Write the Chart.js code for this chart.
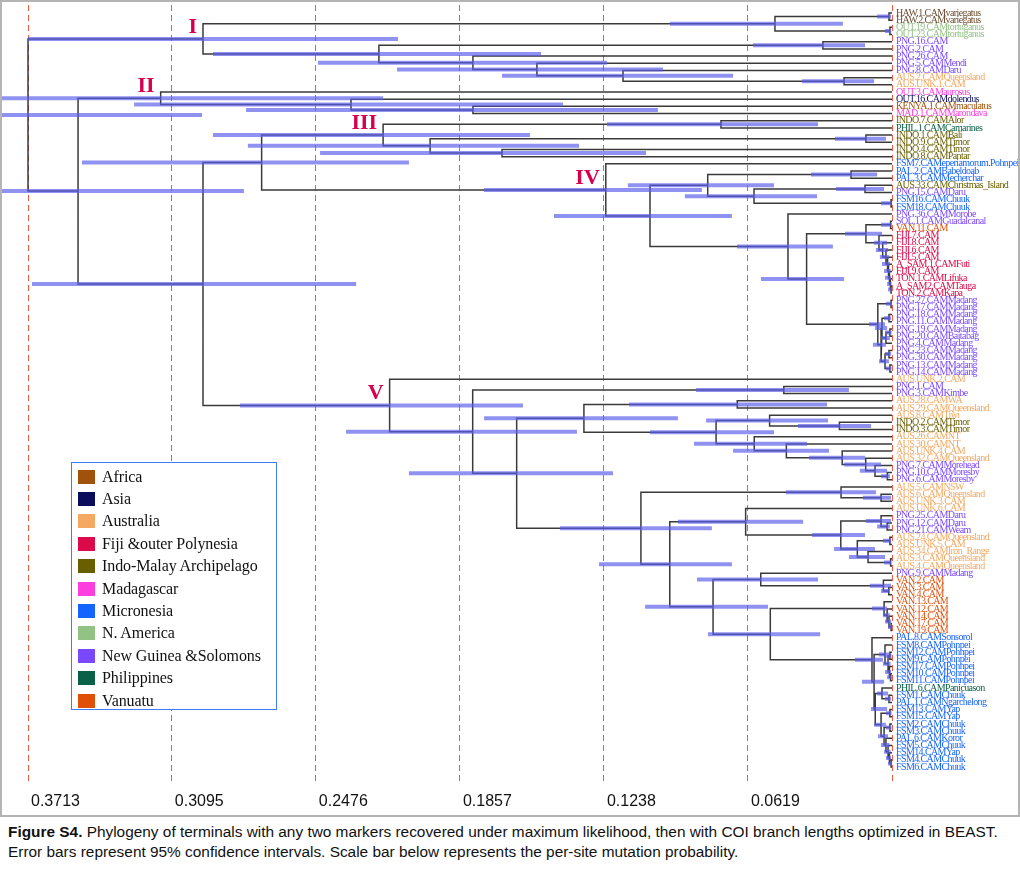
<!DOCTYPE html>
<html>
<head>
<meta charset="utf-8">
<script src="https://cdn.jsdelivr.net/npm/chart.js@4.4.1/dist/chart.umd.min.js"></script>
<style>
  body { margin: 0; background: #fff; width: 1020px; height: 870px; position: relative; overflow: hidden; }
  #frame { position: absolute; left: 0; top: 0; width: 1016px; height: 813px; border: 2px solid #b4b4b4; }
  #tree { display: block; }
  #legend { position: absolute; left: 71px; top: 462px; width: 204px; height: 246px; border: 1.5px solid #3d7bff; background: #fff;
            font-family: 'Liberation Serif', 'Times New Roman', serif; font-size: 16px; color: #111; }
  .row { position: absolute; left: 6px; height: 22px; line-height: 22px; white-space: nowrap; letter-spacing: -0.1px; }
  .sw { display: inline-block; width: 17px; height: 14px; vertical-align: -2px; margin-right: 7px; }
  #caption { position: absolute; left: 8px; top: 822px; font-family: 'Liberation Sans', Arial, sans-serif; font-size: 15.4px; line-height: 20px; color: #111; white-space: nowrap; }
</style>
</head>
<body>
<div id="frame"><canvas id="tree" width="1016" height="813"></canvas></div>
<div id="legend"></div>
<div id="caption"><b>Figure S4.</b> Phylogeny of terminals with any two markers recovered under maximum likelihood, then with COI branch lengths optimized in BEAST.<br>Error bars represent 95% confidence intervals. Scale bar below represents the per-site mutation probability.</div>
<script>
// scale bar values (per-site mutation probability, measured back from the tips)
const ageTicks = [0.3713, 0.3095, 0.2476, 0.1857, 0.1238, 0.0619, 0];

// regions for the legend
const regionCodes = ["AF", "AS", "AU", "FJ", "IM", "MD", "MI", "NA", "NG", "PH", "VA"];
const regionNames = ["Africa", "Asia", "Australia", "Fiji &outer Polynesia", "Indo-Malay Archipelago", "Madagascar",
                     "Micronesia", "N. America", "New Guinea &Solomons", "Philippines", "Vanuatu"];
const regionColors = ["#a0520c", "#0c0c5c", "#f4a862", "#dc0a4a", "#6a5f00", "#ff3ee0",
                      "#1464ff", "#93c285", "#7a48ff", "#0a6048", "#e05008"];
const otherColor = "#6b4a2e"; // HAW, not in legend

// terminals, top to bottom
const tips = [
  "HAW.1.CAMvariegatus", "HAW.2.CAMvariegatus", "OUT.19.CAMtortuganus", "OUT.23.CAMtortuganus",
  "PNG.16.CAM", "PNG.2.CAM", "PNG.26.CAM", "PNG.5.CAMMendi", "PNG.8.CAMDaru",
  "AUS.2.CAMQueensland", "AUS.UNK.1.CAM", "OUT.3.CAMaurosus", "OUT.16.CAMdolendus", "KENYA.1.CAMmaculatus", "MAD.1.CAMMarondava",
  "INDO.7.CAMAlor", "PHIL.1.CAMCamarines", "INDO.1.CAMBali", "INDO.9.CAMTimor", "INDO.4.CAMTimor", "INDO.8.CAMPantar",
  "FSM7.CAMeperiamorum.Pohnpei", "PAL.2.CAMBabeldoab", "PAL.3.CAMMecherchar", "AUS.33.CAMChristmas_Island", "PNG.15.CAMDaru",
  "FSM16.CAMChuuk", "FSM18.CAMChuuk", "PNG.36.CAMMorobe", "SOL.1.CAMGuadalcanal", "VAN.11.CAM",
  "FIJI.7.CAM", "FIJI.8.CAM", "FIJI.6.CAM", "FIJI.5.CAM", "A_SAM.1.CAMFuti", "FIJI.9.CAM", "TON.1.CAMLifuka", "A_SAM2.CAMTauga", "TON.2.CAMKapa",
  "PNG.27.CAMMadang", "PNG.17.CAMMadang", "PNG.18.CAMMadang", "PNG.11.CAMMadang", "PNG.19.CAMMadang", "PNG.20.CAMBaitabag",
  "PNG.4.CAMMadang", "PNG.23.CAMMadang", "PNG.30.CAMMadang", "PNG.13.CAMMadang", "PNG.14.CAMMadang",
  "AUS.UNK.2.CAM", "PNG.1.CAM", "PNG.3.CAMKimbe", "AUS.28.CAMWA", "AUS.29.CAMQueensland", "AUS.8.CAMTiwi", "INDO.2.CAMTimor", "INDO.3.CAMTimor",
  "AUS.26.CAMNT", "AUS.30.CAMNT", "AUS.UNK.4.CAM", "AUS.32.CAMQueensland", "PNG.7.CAMMorehead", "PNG.10.CAMMoresby", "PNG.6.CAMMoresby",
  "AUS.5.CAMNSW", "AUS.6.CAMQueensland", "AUS.UNK.3.CAM", "AUS.UNK.6.CAM", "PNG.25.CAMDaru", "PNG.12.CAMDaru", "PNG.21.CAMWeam",
  "AUS.24.CAMQueensland", "AUS.UNK.5.CAM", "AUS.34.CAMIron_Range", "AUS.3.CAMQueensland", "AUS.4.CAMQueensland", "PNG.9.CAMMadang",
  "VAN.2.CAM", "VAN.3.CAM", "VAN.4.CAM", "VAN.13.CAM", "VAN.12.CAM", "VAN.14.CAM", "VAN.17.CAM", "VAN.19.CAM",
  "PAL.8.CAMSonsorol", "FSM8.CAMPohnpei", "FSM12.CAMPohnpei", "FSM9.CAMPohnpei", "FSM17.CAMPohnpei", "FSM10.CAMPohnpei", "FSM11.CAMPohnpei",
  "PHIL.6.CAMPanicuason", "FSM1.CAMChuuk", "PAL.1.CAMNgarchelong", "FSM13.CAMYap", "FSM15.CAMYap", "FSM2.CAMChuuk", "FSM3.CAMChuuk",
  "PAL.6.CAMKoror", "FSM5.CAMChuuk", "FSM14.CAMYap", "FSM4.CAMChuuk", "FSM6.CAMChuuk"
];
const tipRegion = [
  "HW", "HW", "NA", "NA",
  "NG", "NG", "NG", "NG", "NG",
  "AU", "AU", "MD", "AS", "AF", "MD",
  "IM", "PH", "IM", "IM", "IM", "IM",
  "MI", "MI", "MI", "IM", "NG",
  "MI", "MI", "NG", "NG", "VA",
  "FJ", "FJ", "FJ", "FJ", "FJ", "FJ", "FJ", "FJ", "FJ",
  "NG", "NG", "NG", "NG", "NG", "NG", "NG", "NG", "NG", "NG", "NG",
  "AU", "NG", "NG", "AU", "AU", "AU", "IM", "IM",
  "AU", "AU", "AU", "AU", "NG", "NG", "NG",
  "AU", "AU", "AU", "AU", "NG", "NG", "NG",
  "AU", "AU", "AU", "AU", "AU", "NG",
  "VA", "VA", "VA", "VA", "VA", "VA", "VA", "VA",
  "MI", "MI", "MI", "MI", "MI", "MI", "MI",
  "PH", "MI", "MI", "MI", "MI", "MI", "MI",
  "MI", "MI", "MI", "MI", "MI"
];

// internal nodes: [id, children (tip index or node id), age, 95% CI young, 95% CI old]
const nodes = [
  ["haw", [0, 1], 0.0013, 0.0004, 0.0064],
  ["tort", [2, 3], 0.0009, 0.0004, 0.0030],
  ["I.a", ["haw", "tort"], 0.0503, 0.0211, 0.0954],
  ["png16", [4, 5], 0.0297, 0.0116, 0.0597],
  ["aus2", [9, 10], 0.0206, 0.0077, 0.0387],
  ["png8", [8, "aus2"], 0.1156, 0.0683, 0.1676],
  ["png5", [7, "png8"], 0.1526, 0.0984, 0.2127],
  ["png26", [6, "png5"], 0.1801, 0.1225, 0.2467],
  ["I.b", ["png16", "png26"], 0.2205, 0.1508, 0.2918],
  ["I", ["I.a", "I.b"], 0.2961, 0.2123, 0.3713],
  ["km", [13, 14], 0.1801, 0.1006, 0.2776],
  ["II.a", [12, "km"], 0.2325, 0.1414, 0.3257],
  ["II", [11, "II.a"], 0.3143, 0.2187, 0.3829],
  ["alor", [15, 16], 0.0735, 0.0318, 0.1225],
  ["bali", [17, 18], 0.0112, 0.0026, 0.0245],
  ["pantar", [19, 20], 0.1676, 0.1057, 0.2458],
  ["III.a", ["bali", "pantar"], 0.1985, 0.1345, 0.2768],
  ["III", ["alor", "III.a"], 0.2187, 0.1556, 0.2918],
  ["palau", [22, 23], 0.0176, 0.0064, 0.0348],
  ["xmas", [24, 25], 0.0116, 0.0034, 0.0241],
  ["chuuk", [26, 27], 0.0004, 0.0004, 0.0047],
  ["IV.c", ["xmas", "chuuk"], 0.0593, 0.0322, 0.0890],
  ["IV.b", ["palau", "IV.c"], 0.0792, 0.0507, 0.1135],
  ["sol", [29, 30], 0.0006, 0.0001, 0.0047],
  ["f8", [38, 39], 0.0004, 0.0001, 0.0017],
  ["f7", [37, "f8"], 0.0007, 0.0002, 0.0021],
  ["f6", [36, "f7"], 0.0011, 0.0004, 0.0030],
  ["f5", [35, "f6"], 0.0015, 0.0006, 0.0034],
  ["f4", [34, "f5"], 0.0019, 0.0009, 0.0043],
  ["f3", [33, "f4"], 0.0026, 0.0013, 0.0052],
  ["f2", [32, "f3"], 0.0040, 0.0017, 0.0069],
  ["f1", [31, "f2"], 0.0056, 0.0021, 0.0077],
  ["fiji", ["sol", "f1"], 0.0112, 0.0043, 0.0202],
  ["m1", [40, 41], 0.0004, 0.0001, 0.0026],
  ["m2", [42, 43], 0.0013, 0.0004, 0.0034],
  ["m3", [44, 45], 0.0009, 0.0002, 0.0030],
  ["m4", ["m3", 46], 0.0026, 0.0009, 0.0047],
  ["m5", ["m2", "m4"], 0.0043, 0.0021, 0.0073],
  ["m6", [47, 48], 0.0013, 0.0004, 0.0030],
  ["m7", [49, 50], 0.0009, 0.0002, 0.0026],
  ["m8", ["m6", "m7"], 0.0030, 0.0013, 0.0056],
  ["m9", ["m5", "m8"], 0.0047, 0.0026, 0.0082],
  ["mad", ["m1", "m9"], 0.0061, 0.0030, 0.0099],
  ["IV.e", ["fiji", "mad"], 0.0367, 0.0206, 0.0563],
  ["IV.d", [28, "IV.e"], 0.0447, 0.0254, 0.0666],
  ["IV.a", ["IV.b", "IV.d"], 0.1040, 0.0688, 0.1453],
  ["IV", [21, "IV.a"], 0.1230, 0.0817, 0.1753],
  ["III_IV", ["III", "IV"], 0.2709, 0.2076, 0.3481],
  ["kimbe", [52, 53], 0.0465, 0.0185, 0.0842],
  ["wa", [54, 55], 0.0665, 0.0279, 0.1130],
  ["timor", [57, 58], 0.0226, 0.0090, 0.0404],
  ["tiwi", [56, "timor"], 0.0526, 0.0275, 0.0799],
  ["mores", [64, 65], 0.0020, 0.0009, 0.0047],
  ["moreh", [63, "mores"], 0.0073, 0.0021, 0.0138],
  ["q32", [62, "moreh"], 0.0113, 0.0047, 0.0206],
  ["unk4", [61, "q32"], 0.0214, 0.0116, 0.0357],
  ["nt30", [60, "unk4"], 0.0454, 0.0271, 0.0683],
  ["nt26", [59, "nt30"], 0.0592, 0.0365, 0.0851],
  ["V.e", ["tiwi", "nt26"], 0.0756, 0.0507, 0.1040],
  ["V.d", ["wa", "V.e"], 0.1324, 0.0920, 0.1753],
  ["unk3", [67, 68], 0.0047, 0.0004, 0.0125],
  ["nsw", [66, "unk3"], 0.0219, 0.0069, 0.0456],
  ["daru", [71, 72], 0.0021, 0.0009, 0.0064],
  ["daru2", [70, "daru"], 0.0047, 0.0004, 0.0112],
  ["unk5", [73, 74], 0.0009, 0.0004, 0.0039],
  ["q34", [76, 77], 0.0006, 0.0004, 0.0034],
  ["iron", [75, "q34"], 0.0103, 0.0030, 0.0185],
  ["q24", ["unk5", "iron"], 0.0149, 0.0073, 0.0249],
  ["V.h", ["daru2", "q24"], 0.0220, 0.0116, 0.0344],
  ["V.g", [69, "V.h"], 0.0629, 0.0382, 0.0920],
  ["van3", [80, 81], 0.0014, 0.0009, 0.0047],
  ["van2", [79, "van3"], 0.0037, 0.0004, 0.0095],
  ["V.j", [78, "van2"], 0.0564, 0.0318, 0.0838],
  ["v4", [85, 86], 0.0004, 0.0001, 0.0017],
  ["v3", [84, "v4"], 0.0013, 0.0004, 0.0030],
  ["v2", [83, "v3"], 0.0021, 0.0009, 0.0039],
  ["v1", [82, "v2"], 0.0034, 0.0021, 0.0086],
  ["pa", [89, 90], 0.0009, 0.0002, 0.0026],
  ["pb", [92, 93], 0.0006, 0.0001, 0.0021],
  ["pc", [91, "pb"], 0.0011, 0.0004, 0.0030],
  ["pd", ["pa", "pc"], 0.0017, 0.0006, 0.0039],
  ["pohn", [88, "pd"], 0.0030, 0.0013, 0.0056],
  ["ra", [95, 96], 0.0013, 0.0004, 0.0030],
  ["rb", [94, "ra"], 0.0043, 0.0017, 0.0064],
  ["rc", [97, 98], 0.0009, 0.0002, 0.0026],
  ["rd", [99, 100], 0.0009, 0.0002, 0.0026],
  ["re", [104, 105], 0.0004, 0.0001, 0.0017],
  ["rf", [103, "re"], 0.0011, 0.0004, 0.0026],
  ["rg", [102, "rf"], 0.0017, 0.0006, 0.0034],
  ["rh", [101, "rg"], 0.0026, 0.0011, 0.0047],
  ["ri", ["rd", "rh"], 0.0034, 0.0017, 0.0060],
  ["rj", ["rc", "ri"], 0.0047, 0.0026, 0.0077],
  ["rk", ["rb", "rj"], 0.0072, 0.0021, 0.0090],
  ["mic2", ["pohn", "rk"], 0.0077, 0.0034, 0.0129],
  ["mic", [87, "mic2"], 0.0086, 0.0039, 0.0159],
  ["V.k", ["v1", "mic"], 0.0523, 0.0309, 0.0791],
  ["V.i", ["V.j", "V.k"], 0.0769, 0.0533, 0.1061],
  ["V.f", ["V.g", "V.i"], 0.0955, 0.0688, 0.1259],
  ["V.c", ["nsw", "V.f"], 0.1079, 0.0774, 0.1427],
  ["V.b", ["V.d", "V.c"], 0.1613, 0.1199, 0.2076],
  ["V.a", ["kimbe", "V.b"], 0.1802, 0.1354, 0.2346],
  ["V", [51, "V.a"], 0.2159, 0.1586, 0.2802],
  ["III_V", ["III_IV", "V"], 0.2961, 0.2303, 0.3696],
  ["II_V", ["II", "III_V"], 0.3498, 0.2785, 0.3829],
  ["root", ["I", "II_V"], 0.3713, 0.2965, 0.3829]
];

// clades that carry a roman numeral
const cladeLabels = ["I", "II", "III", "IV", "V"];

(function() {
    let byId = {};
    nodes.forEach(n => { byId[n[0]] = n; });

    let ageOf = k => typeof k === "number" ? 0 : byId[k][2];
    let yMemo = {};
    function yOf(k) {
        if (typeof k === "number") return k;
        if (yMemo[k] === undefined) {
            let kids = byId[k][1];
            yMemo[k] = (yOf(kids[0]) + yOf(kids[kids.length - 1])) / 2;
        }
        return yMemo[k];
    }
    let colorOf = code => {
        let i = regionCodes.indexOf(code);
        return i < 0 ? otherColor : regionColors[i];
    };

    // branches drawn as brackets, one polyline per node
    let branchPts = [];
    let ciPts = [];
    nodes.forEach(([id, kids, age, lo, hi]) => {
        let first = kids[0], last = kids[kids.length - 1];
        branchPts.push(
            {x: ageOf(first), y: yOf(first)}, {x: age, y: yOf(first)},
            {x: age, y: yOf(last)}, {x: ageOf(last), y: yOf(last)},
            {x: null, y: null});
        ciPts.push({x: hi, y: yOf(id)}, {x: lo, y: yOf(id)}, {x: null, y: null});
    });

    // roman numerals, then tighter letter spacing for the tip names (their ticks layer has z: 1)
    let cladePlugin = {
        id: "cladeNumerals",
        afterDatasetsDraw(chart) {
            let c = chart.ctx, sx = chart.scales.x, sy = chart.scales.y;
            c.save();
            c.font = "bold 22px 'Liberation Serif', serif";
            c.fillStyle = "#d6004e";
            c.textAlign = "right";
            c.textBaseline = "bottom";
            cladeLabels.forEach(id => {
                c.fillText(id, sx.getPixelForValue(byId[id][2]) - 6, sy.getPixelForValue(yOf(id)) - 1);
            });
            c.restore();
            c.letterSpacing = "-0.6px";
        },
        afterDraw(chart) {
            chart.ctx.letterSpacing = "0px";
        }
    };

    let ctx = document.getElementById("tree");
    new Chart(ctx.getContext("2d"), {
        type: "scatter",
        data: {
            datasets: [{
                label: "95% CI",
                data: ciPts,
                showLine: true,
                spanGaps: false,
                borderColor: "rgba(92,94,236,0.68)",
                borderWidth: 4,
                borderCapStyle: "butt",
                pointRadius: 0,
                order: 0
            }, {
                label: "branches",
                data: branchPts,
                showLine: true,
                spanGaps: false,
                borderColor: "#3a3a3a",
                borderWidth: 1.5,
                borderJoinStyle: "miter",
                pointRadius: 0,
                order: 1
            }]
        },
        options: {
            responsive: false,
            animation: false,
            events: [],
            layout: {padding: {top: 3, left: 0, right: 0, bottom: 0}},
            plugins: {legend: {display: false}, tooltip: {enabled: false}},
            scales: {
                x: {
                    type: "linear",
                    position: "bottom",
                    reverse: true,
                    min: 0,
                    max: 0.38248,
                    afterBuildTicks: s => { s.ticks = ageTicks.map(v => ({value: v})); },
                    afterFit: s => { s.height = 30; s.paddingLeft = 0; s.paddingRight = 0; },
                    grid: {color: "#f25a44", lineWidth: 1, drawTicks: false},
                    border: {display: false, dash: [6, 4]},
                    ticks: {
                        autoSkip: false, maxRotation: 0, align: "start", labelOffset: 3, padding: 7,
                        color: "#111",
                        font: {family: "'Liberation Sans', Arial, sans-serif", size: 16},
                        callback: v => v === 0 ? "" : v.toFixed(4)
                    }
                },
                y: {
                    type: "linear",
                    position: "right",
                    reverse: true,
                    min: -1.114,
                    max: 107.5,
                    afterBuildTicks: s => { s.ticks = tips.map((_, i) => ({value: i})); },
                    afterFit: s => { s.width = 126; s.paddingTop = 0; s.paddingBottom = 0; },
                    grid: {display: false, drawTicks: false},
                    border: {display: false},
                    ticks: {
                        z: 1,
                        autoSkip: false, padding: 4,
                        color: c => colorOf(tipRegion[c.index]),
                        font: {family: "'Liberation Serif', 'Times New Roman', serif", size: 10},
                        callback: v => tips[v]
                    }
                }
            }
        },
        plugins: [cladePlugin]
    });

    // legend box
    let legend = document.getElementById("legend");
    regionNames.forEach((name, i) => {
        let row = document.createElement("div");
        row.className = "row";
        row.style.top = (2.5 + i * 22.4) + "px";
        let sw = document.createElement("span");
        sw.className = "sw";
        sw.style.background = regionColors[i];
        row.appendChild(sw);
        row.appendChild(document.createTextNode(name));
        legend.appendChild(row);
    });
})();
</script>
</body>
</html>
